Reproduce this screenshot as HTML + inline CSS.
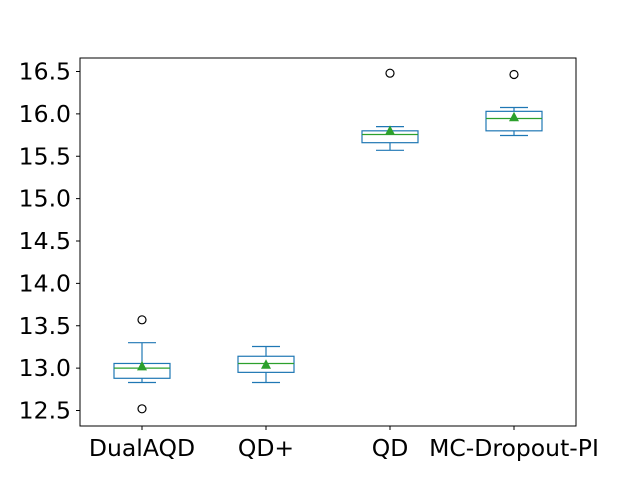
<!DOCTYPE html>
<html><head><meta charset="utf-8"><style>body{margin:0;background:#fff}svg{display:block;font-family:"DejaVu Sans","Liberation Sans",sans-serif}</style></head>
<body>
<svg id="c" width="640" height="480"></svg>
<script>
const categories=["DualAQD","QD+","QD","MC-Dropout-PI"];
const whiskerLow=[12.83,12.83,15.57,15.745];
const q1=[12.88,12.95,15.66,15.80];
const medians=[13.0,13.055,15.757,15.945];
const q3=[13.055,13.14,15.80,16.03];
const whiskerHigh=[13.30,13.255,15.85,16.075];
const means=[13.02,13.04,15.80,15.96];
const outliers=[[13.57,12.52],[],[16.48],[16.465]];
const yTicks=[12.5,13.0,13.5,14.0,14.5,15.0,15.5,16.0,16.5];
const yTickLabels=["12.5","13.0","13.5","14.0","14.5","15.0","15.5","16.0","16.5"];
const L=80,R=576,T=58,B=426;
const y=v=>71.5+(16.5-v)*84.75;
const x=i=>142+i*124;
const svg=document.getElementById('c');const NS='http://www.w3.org/2000/svg';
function mk(t,a,p){const e=document.createElementNS(NS,t);for(const k in a)e.setAttribute(k,a[k]);(p||svg).appendChild(e);return e;}
const frame=mk('rect',{x:L,y:T,width:R-L,height:B-T,fill:'none',stroke:'#000','stroke-width':1});


yTicks.forEach((v,i)=>{
 const tk=mk('line',{x1:L-4,x2:L,y1:y(v),y2:y(v),stroke:'#000'});
 
 
 const t=mk('text',{x:L-9,y:y(v)+8,'text-anchor':'end','font-size':23.5});
 t.textContent=yTickLabels[i];
 
 
});
categories.forEach((c,i)=>{
 const cx=x(i);const g=mk('g',{});
 
 
 const col='#1f77b4';
 mk('line',{x1:cx,x2:cx,y1:y(q3[i]),y2:y(whiskerHigh[i]),stroke:col,'stroke-width':1.2},g);
 mk('line',{x1:cx,x2:cx,y1:y(q1[i]),y2:y(whiskerLow[i]),stroke:col,'stroke-width':1.2},g);
 mk('line',{x1:cx-14,x2:cx+14,y1:y(whiskerHigh[i]),y2:y(whiskerHigh[i]),stroke:col,'stroke-width':1.2},g);
 mk('line',{x1:cx-14,x2:cx+14,y1:y(whiskerLow[i]),y2:y(whiskerLow[i]),stroke:col,'stroke-width':1.2},g);
 mk('rect',{x:cx-28,y:y(q3[i]),width:56,height:y(q1[i])-y(q3[i]),fill:'none',stroke:col,'stroke-width':1.2},g);
 mk('line',{x1:cx-28,x2:cx+28,y1:y(medians[i]),y2:y(medians[i]),stroke:'#2ca02c','stroke-width':1.2},g);
 const my=y(means[i]);
 mk('polygon',{points:`${cx},${my-5.5} ${cx-5},${my+4} ${cx+5},${my+4}`,fill:'#2ca02c'},g);
 outliers[i].forEach(o=>mk('circle',{cx:cx,cy:y(o),r:4,fill:'none',stroke:'#000','stroke-width':1.2},g));
 const tk=mk('line',{x1:cx,x2:cx,y1:B,y2:B+4,stroke:'#000'});
 
 
 const t=mk('text',{x:cx,y:456,'text-anchor':'middle','font-size':23.5});
 t.textContent=c;
 
 
});
</script>
</body></html>
